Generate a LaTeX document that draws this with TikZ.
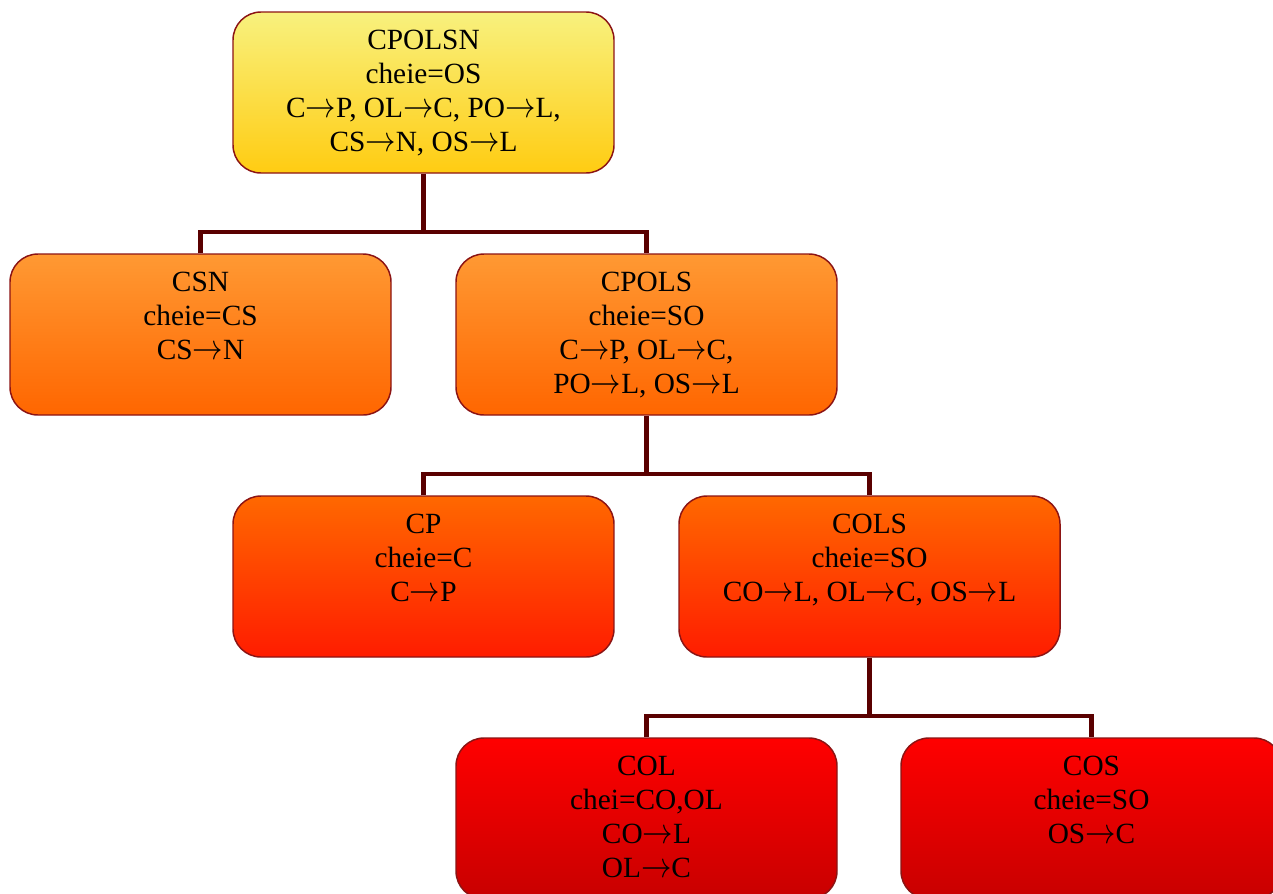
\documentclass[tikz,border=0pt]{standalone}
\usepackage{fontspec}
\setmainfont{Liberation Serif}
\newcommand{\rarr}{\scalebox{1.1}[1.3]{$\rightarrow$}}
\definecolor{conncol}{RGB}{90,0,0}
\definecolor{edgecol}{RGB}{140,20,20}
\definecolor{yA}{RGB}{248,241,126}
\definecolor{yB}{RGB}{255,204,18}
\definecolor{oA}{RGB}{255,153,51}
\definecolor{oB}{RGB}{255,102,0}
\definecolor{rA}{RGB}{255,104,0}
\definecolor{rB}{RGB}{255,28,0}
\definecolor{dA}{RGB}{255,0,0}
\definecolor{dB}{RGB}{200,0,0}
\tikzset{
  box/.style={draw=edgecol, line width=1.1pt, rounded corners=21pt,
    minimum width=285.75pt, minimum height=120.75pt, inner sep=0pt},
  lvlA/.style={box, top color=yA, bottom color=yB},
  lvlB/.style={box, top color=oA, bottom color=oB},
  lvlC/.style={box, top color=rA, bottom color=rB},
  lvlD/.style={box, top color=dA, bottom color=dB},
  txt/.style={anchor=north, align=center, inner sep=0pt, yshift=-14pt,
    font=\fontsize{22}{25.5}\selectfont},
  conn/.style={draw=conncol, line width=3.6pt, line join=miter},
}
\begin{document}
\begin{tikzpicture}[x=0.75pt, y=-0.75pt]
\useasboundingbox (0,0) rectangle (1273,893);
\clip (0,0) rectangle (1273,893);
\fill[white] (0,0) rectangle (1273,893);
% connectors
\coordinate (b1) at (423.5,232);
\coordinate (b2) at (646.5,474);
\coordinate (b3) at (869.5,716);
% boxes
\node[lvlA] (top) at (423.5,92.5) {};
\node[lvlB] (csn) at (200.5,334.5) {};
\node[lvlB] (cpols) at (646.5,334.5) {};
\node[lvlC] (cp) at (423.5,576.5) {};
\node[lvlC] (cols) at (869.5,576.5) {};
\node[lvlD] (col) at (646.5,818.5) {};
\node[lvlD] (cos) at (1091.5,818.5) {};
\draw[conn] (top.south) -- (b1);
\draw[conn] (csn.north) |- (b1) -| (cpols.north);
\draw[conn] (cpols.south) -- (b2);
\draw[conn] (cp.north) |- (b2) -| (cols.north);
\draw[conn] (cols.south) -- (b3);
\draw[conn] (col.north) |- (b3) -| (cos.north);
% texts
\node[txt] (ttop) at (top.north) {CPOLSN\\cheie=OS\\C\rarr P, OL\rarr C, PO\rarr L,\\CS\rarr N, OS\rarr L};
\node[txt] (tcsn) at (csn.north) {CSN\\cheie=CS\\CS\rarr N};
\node[txt] (tcpols) at (cpols.north) {CPOLS\\cheie=SO\\C\rarr P, OL\rarr C,\\PO\rarr L, OS\rarr L};
\node[txt] (tcp) at (cp.north) {CP\\cheie=C\\C\rarr P};
\node[txt] (tcols) at (cols.north) {COLS\\cheie=SO\\CO\rarr L, OL\rarr C, OS\rarr L};
\node[txt] (tcol) at (col.north) {COL\\chei=CO,OL\\CO\rarr L\\OL\rarr C};
\node[txt] (tcos) at (cos.north) {COS\\cheie=SO\\OS\rarr C};
\end{tikzpicture}
\end{document}
